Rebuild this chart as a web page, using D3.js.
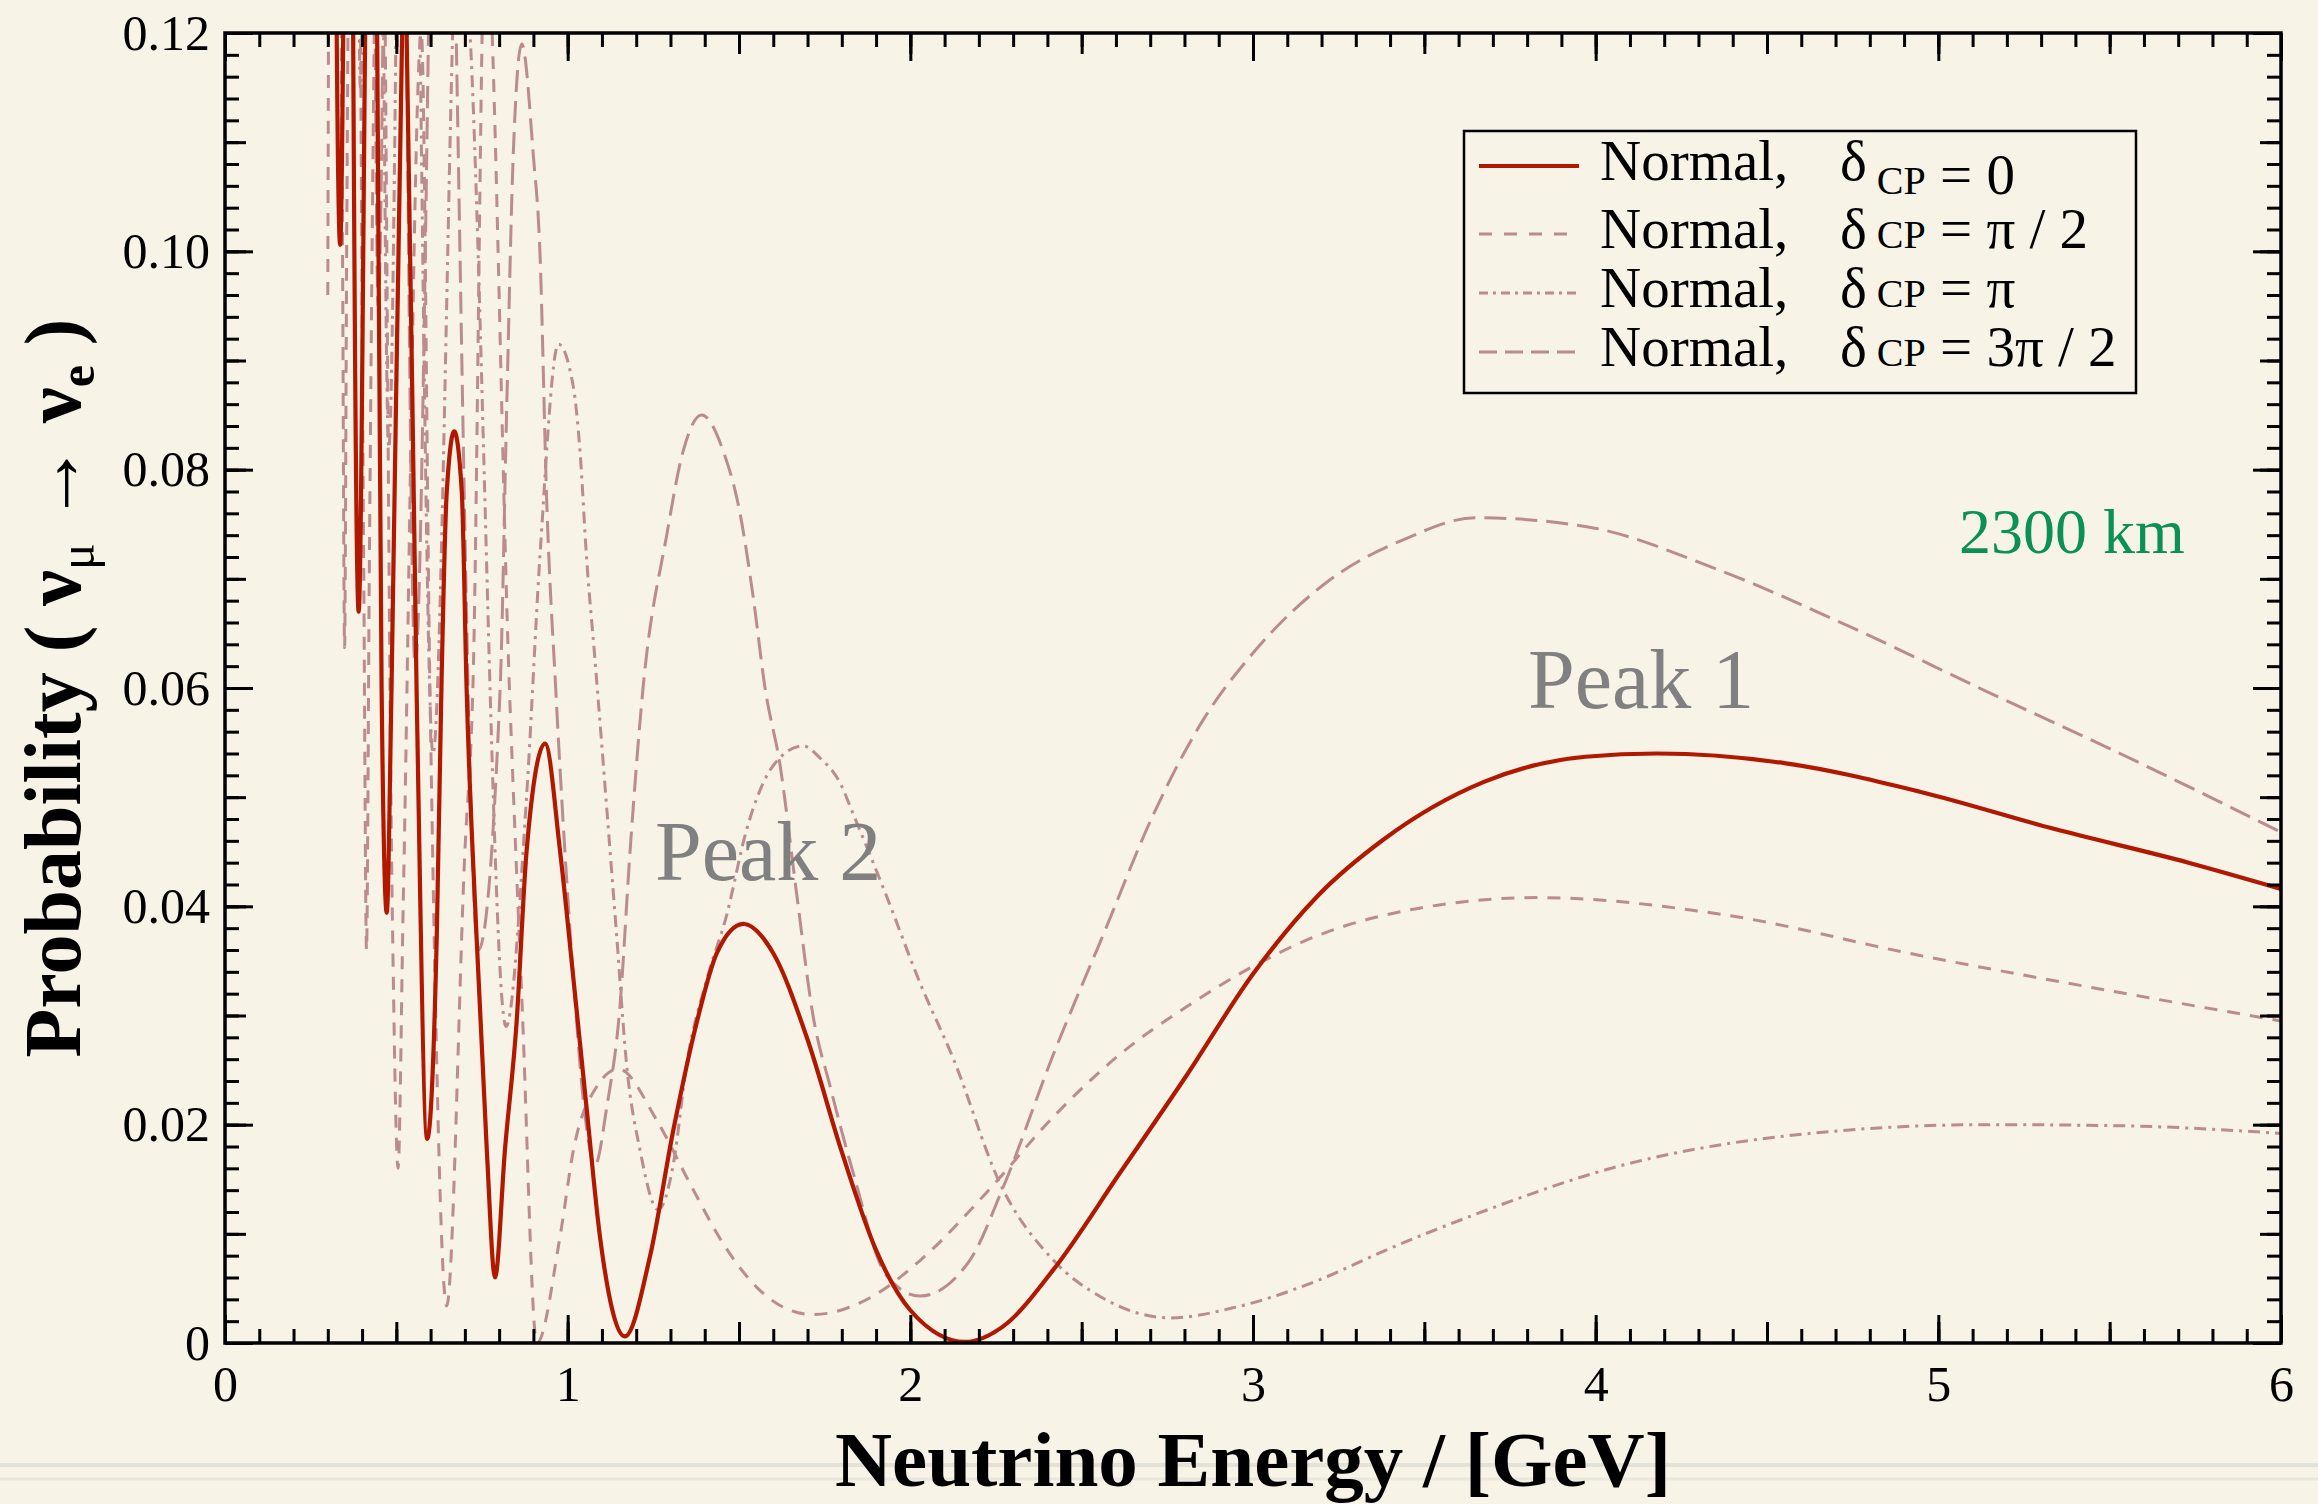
<!DOCTYPE html>
<html>
<head>
<meta charset="utf-8">
<script src="https://cdn.jsdelivr.net/npm/d3@7"></script>
<style>
  html, body { margin: 0; padding: 0; background: #f7f3e7; }
  svg { display: block; }
  text { font-family: "Liberation Serif", "Times New Roman", serif; }
</style>
</head>
<body>
<div id="chart"></div>
<script>
// energy in GeV, probability P(numu -> nue)
var normalDelta0 = [
  [0.300,0.22],[0.313,0.25],[0.326,0.12],[0.336,0.1006],[0.345,0.12],[0.362,0.22],[0.374,0.12],
  [0.390,0.067],[0.409,0.12],[0.427,0.19],[0.444,0.12],[0.457,0.06],[0.472,0.0394],[0.486,0.06],
  [0.517,0.12],[0.523,0.127],[0.530,0.12],[0.559,0.06],[0.590,0.0187],[0.618,0.0373],[0.632,0.0607],
  [0.647,0.0779],[0.669,0.0835],[0.691,0.078],[0.705,0.060],[0.734,0.0373],[0.764,0.0177],[0.788,0.006],
  [0.817,0.0177],[0.851,0.0294],[0.880,0.045],[0.934,0.0549],[0.978,0.045],[1.017,0.0333],[1.055,0.0216],
  [1.094,0.0098],[1.167,0.0006],[1.240,0.0079],[1.309,0.0196],[1.377,0.0294],[1.435,0.0357],[1.513,0.0384],
  [1.600,0.0357],[1.700,0.0278],[1.800,0.0175],[1.900,0.0085],[2.000,0.0030],[2.160,0.0001],[2.270,0.0015],
  [2.417,0.0067],[2.610,0.0155],[2.806,0.0245],[3.000,0.0338],[3.190,0.0410],[3.380,0.0461],[3.674,0.0514],
  [3.970,0.0537],[4.180,0.0540],[4.555,0.0531],[4.946,0.0505],[5.337,0.0471],[5.730,0.0440],[6.000,0.0416]
];
var normalDeltaHalfPi = [
  [0.300,0.096],[0.313,0.20],[0.343,0.10],[0.349,0.0637],[0.355,0.10],[0.380,0.18],[0.405,0.07],
  [0.413,0.036],[0.421,0.07],[0.455,0.15],[0.488,0.04],[0.505,0.016],[0.520,0.04],[0.573,0.12],
  [0.598,0.06],[0.647,0.0034],[0.700,0.045],[0.724,0.0607],[0.760,0.13],[0.830,0.06],[0.867,0.031],
  [0.910,0.0],[0.978,0.0098],[1.017,0.0177],[1.085,0.0235],[1.148,0.0251],[1.260,0.0204],[1.357,0.0146],
  [1.454,0.0091],[1.552,0.0051],[1.649,0.0030],[1.716,0.0026],[1.880,0.0041],[2.030,0.0076],[2.220,0.0137],
  [2.417,0.0207],[2.610,0.0264],[2.806,0.0308],[3.000,0.0345],[3.195,0.0374],[3.430,0.0395],[3.830,0.0408],
  [4.360,0.0393],[4.946,0.0355],[5.530,0.0321],[6.000,0.0295]
];
var normalDeltaPi = [
  [0.300,0.30],[0.315,0.34],[0.3375,0.15],[0.364,0.30],[0.395,0.115],[0.431,0.24],[0.478,0.082],
  [0.530,0.19],[0.607,0.054],[0.686,0.135],[0.715,0.12],[0.820,0.029],[0.880,0.050],[0.919,0.072],
  [0.973,0.0915],[1.017,0.0875],[1.036,0.0817],[1.055,0.072],[1.080,0.0625],[1.114,0.049],[1.143,0.0373],
  [1.172,0.0255],[1.211,0.0177],[1.264,0.0122],[1.309,0.0165],[1.347,0.0255],[1.406,0.0333],[1.464,0.0392],
  [1.522,0.047],[1.600,0.0529],[1.687,0.0547],[1.736,0.0536],[1.795,0.0513],[1.834,0.0484],[1.931,0.0409],
  [2.028,0.033],[2.126,0.026],[2.262,0.0146],[2.417,0.0076],[2.563,0.0041],[2.758,0.0023],[2.952,0.0033],
  [3.195,0.0058],[3.380,0.0084],[3.650,0.0118],[4.080,0.0163],[4.510,0.0188],[5.140,0.0200],[5.530,0.0199],
  [6.000,0.0192]
];
var normalDelta3HalfPi = [
  [0.300,0.30],[0.323,0.16],[0.347,0.36],[0.375,0.125],[0.408,0.30],[0.447,0.095],[0.495,0.22],
  [0.555,0.062],[0.629,0.17],[0.739,0.036],[0.803,0.060],[0.822,0.0855],[0.841,0.1087],[0.866,0.119],
  [0.900,0.1087],[0.919,0.100],[0.939,0.077],[0.965,0.060],[0.992,0.045],[1.017,0.0333],[1.050,0.021],
  [1.080,0.0163],[1.114,0.0216],[1.153,0.031],[1.182,0.045],[1.220,0.060],[1.289,0.074],[1.337,0.0817],
  [1.391,0.085],[1.454,0.0817],[1.503,0.076],[1.542,0.0682],[1.576,0.060],[1.620,0.0529],[1.668,0.0412],
  [1.716,0.030],[1.766,0.0235],[1.834,0.0155],[1.930,0.0062],[2.028,0.0043],[2.174,0.0076],[2.270,0.0142],
  [2.417,0.0264],[2.563,0.0374],[2.709,0.0484],[2.855,0.0571],[3.000,0.0632],[3.220,0.0698],[3.440,0.0736],
  [3.650,0.0756],[3.970,0.0748],[4.360,0.0708],[4.750,0.0655],[5.140,0.0597],[5.530,0.054],[6.000,0.0468]
];

var xTicks = [0, 1, 2, 3, 4, 5, 6];
var yTicks = [0, 0.02, 0.04, 0.06, 0.08, 0.10, 0.12];
var legendLabels = ["0", "\u03c0 / 2", "\u03c0", "3\u03c0 / 2"];

var W = 2318, H = 1504;
var plotL = 225, plotR = 2281, plotT = 33, plotB = 1343;
var red = "#b01800", rose = "#bc8b8f";
var serif = "'Liberation Serif', 'Times New Roman', serif";

var svg = d3.select("#chart").append("svg")
    .attr("width", W)
    .attr("height", H)
    .style("background", "#f7f3e7");

// faint slide divider near the bottom
svg.append("line").attr("x1", 0).attr("x2", W).attr("y1", 1465).attr("y2", 1465)
    .attr("stroke", "#e2e2d8").attr("stroke-width", 4);
svg.append("line").attr("x1", 0).attr("x2", W).attr("y1", 1479).attr("y2", 1479)
    .attr("stroke", "#e9e8df").attr("stroke-width", 3);

var x = d3.scaleLinear().domain([0, 6]).range([plotL, plotR]);
var y = d3.scaleLinear().domain([0, 0.12]).range([plotB, plotT]);

svg.append("clipPath").attr("id", "plotclip")
    .append("rect")
    .attr("x", plotL).attr("y", plotT)
    .attr("width", plotR - plotL).attr("height", plotB - plotT);

var line = d3.line()
    .x(function (d) { return x(d[0]); })
    .y(function (d) { return y(d[1]); })
    .curve(d3.curveMonotoneX);

var curves = svg.append("g").attr("clip-path", "url(#plotclip)");
curves.append("path").datum(normalDeltaPi)
    .attr("d", line).attr("fill", "none").attr("stroke", rose)
    .attr("stroke-width", 3).attr("stroke-dasharray", "12,6,3,6");
curves.append("path").datum(normalDeltaHalfPi)
    .attr("d", line).attr("fill", "none").attr("stroke", rose)
    .attr("stroke-width", 3).attr("stroke-dasharray", "13,10");
curves.append("path").datum(normalDelta3HalfPi)
    .attr("d", line).attr("fill", "none").attr("stroke", rose)
    .attr("stroke-width", 3).attr("stroke-dasharray", "22,9");
curves.append("path").datum(normalDelta0)
    .attr("d", line).attr("fill", "none").attr("stroke", red)
    .attr("stroke-width", 4.2);

// ticks, pointing inward on all four sides
function tickAxis(axis, vals, len, tx, ty) {
    var g = svg.append("g").attr("transform", "translate(" + tx + "," + ty + ")")
        .call(axis.tickValues(vals).tickSize(-len).tickFormat(""));
    g.select(".domain").remove();
    g.selectAll("line").attr("stroke", "#000").attr("stroke-width", 3);
}
var xMinor = d3.range(0, 61).map(function (i) { return i / 10; });
var xMid = d3.range(0, 13).map(function (i) { return i / 2; });
var yMinor = d3.range(0, 61).map(function (i) { return i * 0.002; });
var yMid = d3.range(0, 13).map(function (i) { return i * 0.01; });
[[xMinor, 14], [xMid, 21], [xTicks, 28]].forEach(function (t) {
    tickAxis(d3.axisBottom(x), t[0], t[1], 0, plotB);
    tickAxis(d3.axisTop(x), t[0], t[1], 0, plotT);
});
[[yMinor, 14], [yMid, 21], [yTicks, 28]].forEach(function (t) {
    tickAxis(d3.axisLeft(y), t[0], t[1], plotL, 0);
    tickAxis(d3.axisRight(y), t[0], t[1], plotR, 0);
});

// tick labels
var xl = svg.append("g").attr("transform", "translate(0," + plotB + ")")
    .call(d3.axisBottom(x).tickValues(xTicks).tickSize(0).tickPadding(22)
        .tickFormat(d3.format("d")));
xl.select(".domain").remove();
xl.selectAll("text").attr("font-size", 50).attr("font-family", serif).attr("fill", "#000");

var yl = svg.append("g").attr("transform", "translate(" + plotL + ",0)")
    .call(d3.axisLeft(y).tickValues(yTicks).tickSize(0).tickPadding(15)
        .tickFormat(function (d) { return d === 0 ? "0" : d.toFixed(2); }));
yl.select(".domain").remove();
yl.selectAll("text").attr("font-size", 50).attr("font-family", serif).attr("fill", "#000");

// frame
svg.append("rect")
    .attr("x", plotL).attr("y", plotT)
    .attr("width", plotR - plotL).attr("height", plotB - plotT)
    .attr("fill", "none").attr("stroke", "#000").attr("stroke-width", 3.5);

// axis titles
svg.append("text")
    .attr("x", (plotL + plotR) / 2).attr("y", 1486)
    .attr("text-anchor", "middle")
    .attr("font-size", 79).attr("font-weight", "bold")
    .text("Neutrino Energy / [GeV]");

var yt = svg.append("text")
    .attr("transform", "translate(80," + ((plotT + plotB) / 2) + ") rotate(-90)")
    .attr("text-anchor", "middle")
    .attr("font-size", 80).attr("font-weight", "bold");
yt.append("tspan").text("Probability ( \u03bd");
yt.append("tspan").attr("font-size", 50).attr("font-weight", "normal").attr("dy", 14).text("\u03bc");
yt.append("tspan").attr("font-weight", "normal").attr("dy", -14).text(" \u2192 ");
yt.append("tspan").text("\u03bd");
yt.append("tspan").attr("font-size", 50).attr("dy", 14).text("e");
yt.append("tspan").attr("dy", -14).text(" )");

// annotations
svg.append("text").attr("x", 1528).attr("y", 708)
    .attr("font-size", 84).attr("fill", "#808080").text("Peak 1");
svg.append("text").attr("x", 655).attr("y", 880)
    .attr("font-size", 84).attr("fill", "#808080").text("Peak 2");
svg.append("text").attr("x", 1959).attr("y", 553)
    .attr("font-size", 64).attr("fill", "#0b9155").text("2300 km");

// legend
var legend = svg.append("g");
legend.append("rect")
    .attr("x", 1464).attr("y", 131).attr("width", 672).attr("height", 262)
    .attr("fill", "none").attr("stroke", "#000").attr("stroke-width", 2.5);
var legendStyles = [
    { color: red, width: 4.2, dash: null },
    { color: rose, width: 3.2, dash: "13,12" },
    { color: rose, width: 3.2, dash: "9,5,3,5" },
    { color: rose, width: 3.2, dash: "18,8" }
];
var rowBase = [180, 248, 307, 366];
legendLabels.forEach(function (lab, i) {
    var s = legendStyles[i], b = rowBase[i];
    legend.append("line")
        .attr("x1", 1479).attr("x2", 1579).attr("y1", b - 14).attr("y2", b - 14)
        .attr("stroke", s.color).attr("stroke-width", s.width)
        .attr("stroke-dasharray", s.dash);
    legend.append("text").attr("x", 1600).attr("y", b)
        .attr("font-size", 57).text("Normal,");
    var t = legend.append("text").attr("x", 1840).attr("y", b).attr("font-size", 57);
    t.append("tspan").text("\u03b4");
    var shift = i === 0 ? 14 : 0;
    t.append("tspan").attr("font-size", 40).attr("dy", shift).text(" CP");
    t.append("tspan").text(" = " + lab);
});
</script>
</body>
</html>
